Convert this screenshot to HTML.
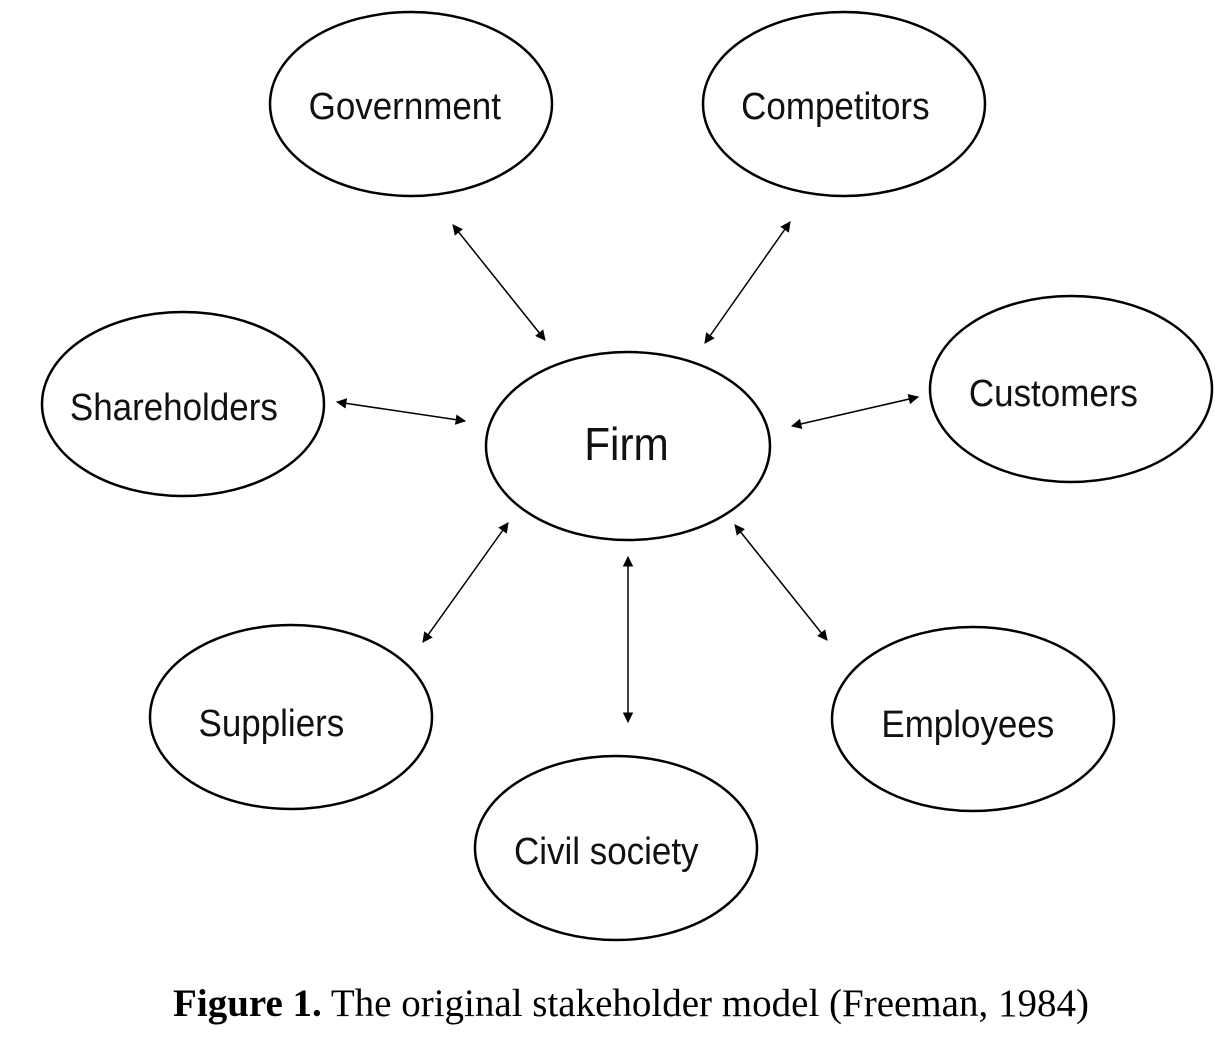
<!DOCTYPE html>
<html><head><meta charset="utf-8"><style>
html,body{margin:0;padding:0;background:#fff;}
svg{display:block;}
</style></head><body>
<svg width="1215" height="1040" viewBox="0 0 1215 1040" xmlns="http://www.w3.org/2000/svg">
<defs>
<marker id="a" viewBox="0 0 10 10" refX="9" refY="5" markerWidth="7" markerHeight="7" orient="auto-start-reverse">
<path d="M0,0 L10,5 L0,10 z" fill="#000"/>
</marker>
</defs>
<g fill="none" stroke="#000" stroke-width="2.5">
<ellipse cx="411" cy="104" rx="141" ry="92"/>
<ellipse cx="844" cy="104" rx="141" ry="92"/>
<ellipse cx="183" cy="404" rx="141" ry="92"/>
<ellipse cx="628" cy="446" rx="142" ry="94"/>
<ellipse cx="1071" cy="389" rx="141" ry="93"/>
<ellipse cx="291" cy="717" rx="141" ry="92"/>
<ellipse cx="616" cy="848" rx="141" ry="92"/>
<ellipse cx="973" cy="719" rx="141" ry="92"/>
</g>
<g stroke="#000" stroke-width="1.5" marker-start="url(#a)" marker-end="url(#a)">
<line x1="453" y1="225" x2="545" y2="340"/>
<line x1="790" y1="222" x2="705" y2="343"/>
<line x1="337" y1="402" x2="465" y2="421"/>
<line x1="918" y1="397" x2="792" y2="426"/>
<line x1="508" y1="523" x2="423" y2="642"/>
<line x1="628" y1="557" x2="628" y2="722"/>
<line x1="735" y1="525" x2="827" y2="640"/>
</g>
<g font-family="Liberation Sans, sans-serif" font-size="38" fill="#111" text-anchor="middle" transform="scale(0.92,1)">
<text x="440" y="119">Government</text>
<text x="908" y="119">Competitors</text>
<text x="189" y="420">Shareholders</text>
<text x="681" y="460" font-size="46">Firm</text>
<text x="1145" y="406">Customers</text>
<text x="295" y="736">Suppliers</text>
<text x="659" y="864">Civil society</text>
<text x="1052" y="737">Employees</text>
</g>
<text x="631" y="1016" font-family="Liberation Serif, serif" font-size="39" text-anchor="middle" fill="#000"><tspan font-weight="bold">Figure 1.</tspan> The original stakeholder model (Freeman, 1984)</text>
</svg>
</body></html>
